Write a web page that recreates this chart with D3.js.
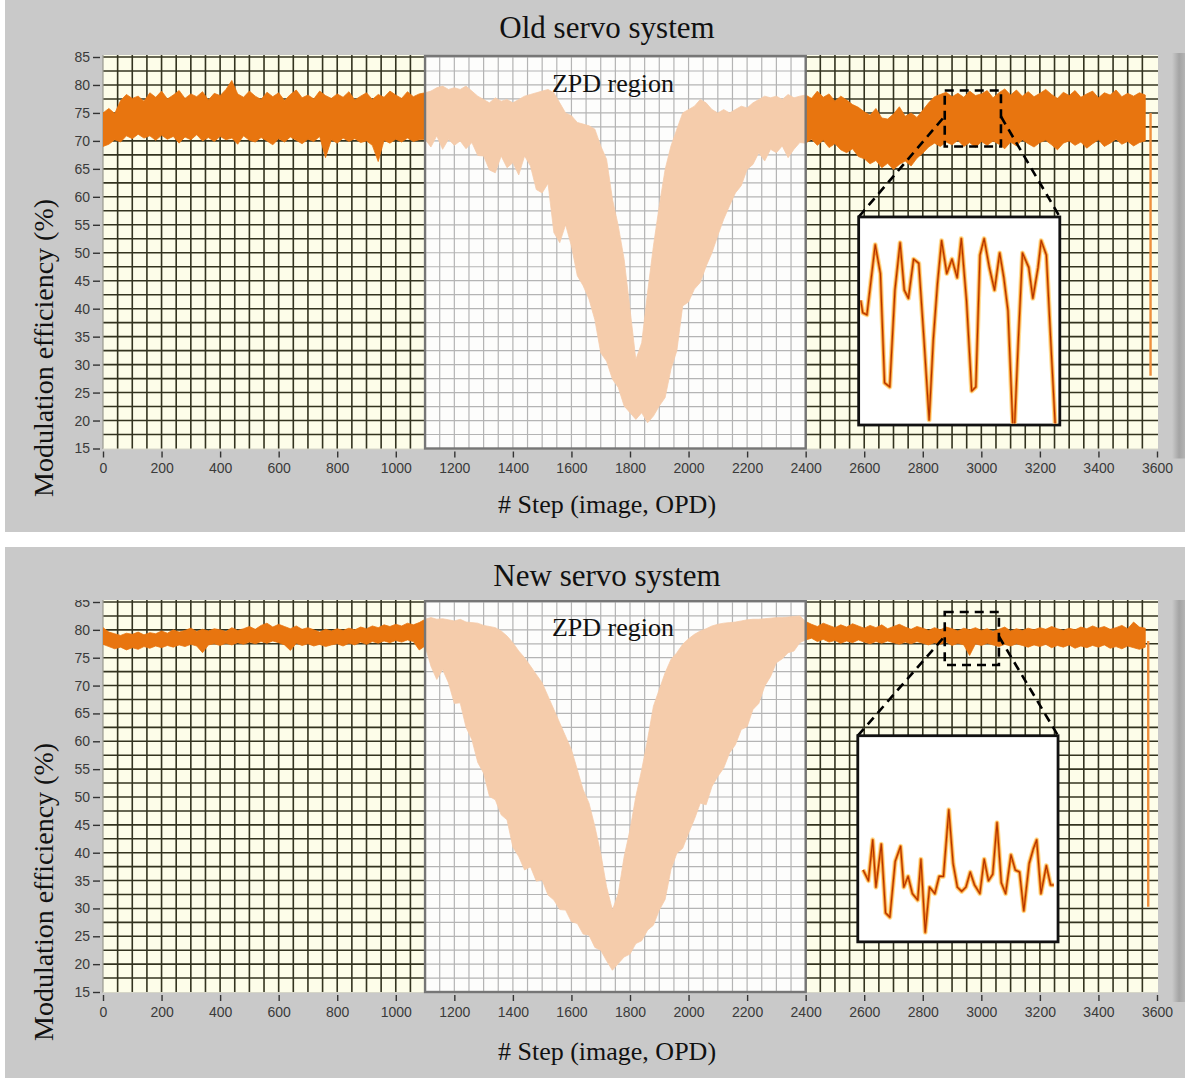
<!DOCTYPE html>
<html>
<head>
<meta charset="utf-8">
<script src="https://cdn.jsdelivr.net/npm/d3@7"></script>
<style>
  body { margin: 0; background: #ffffff; }
  svg { display: block; }
  .tick text { font-family: "Liberation Sans", Arial, sans-serif; font-size: 14px; fill: #3a3a3a; }
  .tick line { stroke: #333333; stroke-width: 1.4; }
</style>
</head>
<body>
<svg id="fig" width="1185" height="1078"></svg>
<script>
// ---- data ---------------------------------------------------------------
const stepTicks = d3.range(0, 3601, 200);          // x tick labels
const valueTicks = d3.range(15, 86, 5);            // y tick labels
const sampleSteps = d3.range(0, 3561, 20);         // envelope sample positions (# step)
const zpdSteps = [1100, 2400];                     // ZPD region

// Old servo: upper / lower envelope of the modulation efficiency trace (%)
const oldHi = [
  75.0, 75.8, 74.9, 77.2, 78.3, 77.6, 78.0, 77.1, 78.6, 77.8,
  78.9, 77.5, 78.2, 79.0, 77.6, 78.4, 77.9, 78.8, 77.3, 78.5,
  78.1, 79.2, 80.8, 78.4, 77.8, 78.9, 78.0, 77.4, 78.7, 77.9,
  78.6, 77.2, 78.3, 79.1, 77.7, 78.2, 77.5, 78.9, 78.1, 77.6,
  78.4, 77.8, 78.8, 77.3, 78.0, 78.6, 77.4, 78.3, 77.8, 78.9,
  78.2, 77.6, 78.8, 77.9, 78.4,
  78.6, 78.9, 79.5, 79.8, 79.2, 79.5, 79.2, 79.8, 78.9, 78.0,
  77.4, 76.8, 77.7, 77.1, 77.4, 76.8, 77.4, 78.0, 78.3, 78.6,
  78.9, 79.2, 78.6, 76.8, 75.0, 74.5, 73.3, 73.0, 72.7, 72.1,
  69.1, 66.7, 59.6, 54.8, 48.8, 39.9, 30.9, 33.9, 42.9, 51.2,
  58.4, 64.9, 69.1, 72.1, 75.0, 75.6, 76.2, 77.4, 76.8, 75.6,
  75.0, 75.6, 75.0, 75.6, 76.2, 75.9, 76.8, 77.4, 78.0, 77.7,
  78.0, 77.4, 78.3, 77.7, 78.0,
  78.2, 77.6, 78.9, 77.8, 78.4, 77.1, 78.0, 77.3, 76.5, 76.0,
  75.2, 74.6, 75.8, 74.1, 73.9, 74.8, 76.1, 74.4, 75.0, 74.2,
  75.5, 76.8, 77.9, 78.3, 78.7, 77.9, 78.5, 77.8, 78.9, 78.1,
  78.4, 79.0, 77.7, 78.6, 79.3, 78.2, 79.1, 78.0, 78.8, 77.9,
  78.5, 79.2, 78.3, 77.6, 78.7, 78.1, 79.0, 77.8, 78.4, 78.9,
  77.7, 78.6, 78.2, 79.1, 77.9, 78.5, 78.0, 78.6, 78.2
];
const oldLo = [
  69.0, 69.4, 70.2, 69.8, 70.9, 70.4, 71.2, 70.5, 70.9, 70.1,
  71.0, 70.3, 70.8, 69.6, 70.7, 70.2, 71.1, 70.0, 70.6, 69.9,
  70.8, 70.2, 70.5, 69.4, 70.9, 70.1, 69.8, 70.6, 70.0, 69.3,
  70.4, 69.8, 70.7, 70.1, 69.5, 70.3, 69.9, 70.8, 67.0, 70.2,
  69.6, 70.5, 69.9, 70.4, 69.7, 70.0, 69.2, 66.3, 70.1, 69.6,
  70.3, 69.8, 70.5, 69.9, 70.2,
  70.3, 68.9, 70.9, 68.5, 70.3, 69.2, 70.0, 68.6, 69.7, 67.4,
  67.3, 64.8, 64.3, 67.3, 65.2, 66.1, 63.9, 67.3, 65.5, 61.3,
  60.7, 62.4, 53.6, 51.8, 55.0, 51.2, 45.9, 44.1, 41.7, 38.0,
  32.1, 30.6, 27.4, 25.9, 22.6, 21.4, 20.2, 21.4, 19.6, 20.8,
  22.6, 24.1, 29.2, 32.5, 40.5, 41.2, 43.5, 44.7, 47.6, 50.0,
  53.1, 56.0, 58.4, 60.7, 62.0, 64.9, 65.8, 67.9, 66.4, 68.5,
  67.9, 69.1, 67.0, 68.5, 69.7,
  69.6, 70.3, 69.2, 70.1, 68.8, 69.5, 68.4, 67.9, 68.6, 67.2,
  66.8, 65.9, 66.5, 65.2, 66.0, 64.9, 65.8, 66.4, 65.5, 66.9,
  67.8, 68.9, 69.6, 69.0, 69.8, 69.3, 70.1, 69.0, 69.7, 68.8,
  69.9, 69.2, 70.0, 69.4, 68.6, 69.8, 69.1, 70.2, 69.5, 68.9,
  69.7, 70.1, 69.3, 68.4, 69.6, 70.0, 69.2, 69.8, 68.7, 69.5,
  70.2, 69.0, 69.6, 70.3, 69.4, 69.9, 69.1, 69.7, 70.0
];

// New servo: upper / lower envelope (%)
const newHi = [
  80.4, 79.6, 79.3, 79.0, 79.4, 79.2, 79.6, 79.1, 79.5, 79.3,
  79.8, 79.4, 80.0, 79.6, 79.9, 80.3, 79.7, 80.1, 79.8, 80.2,
  80.0, 79.7, 80.4, 79.9, 80.2, 80.6, 80.1, 80.8, 81.2, 80.5,
  81.0, 80.6, 80.2, 80.7, 80.1, 80.4, 80.0, 79.6, 80.1, 79.8,
  80.2, 79.9, 80.3, 80.0, 80.5, 80.2, 80.7, 80.4, 80.9, 80.6,
  81.0, 80.7, 81.2, 80.9, 81.3,
  81.9, 82.2, 81.9, 82.0, 81.8, 81.6, 81.9, 81.4, 81.3, 81.2,
  80.8, 80.6, 80.4, 79.8, 78.9, 77.7, 76.2, 75.0, 73.5, 72.0,
  70.5, 68.1, 65.7, 63.3, 60.9, 58.5, 54.9, 51.3, 48.9, 44.7,
  39.9, 33.9, 29.7, 32.7, 39.3, 44.1, 50.1, 54.9, 60.3, 66.3,
  69.3, 72.3, 74.7, 75.9, 77.4, 78.4, 79.2, 79.8, 80.2, 80.7,
  81.0, 81.2, 81.3, 81.4, 81.6, 81.8, 81.9, 81.9, 82.0, 82.1,
  82.2, 82.2, 82.3, 82.4, 82.5,
  81.5, 81.0, 80.6, 81.2, 80.8, 80.4, 80.9, 80.5, 81.1, 80.7,
  80.3, 80.8, 80.4, 80.9, 80.2, 80.6, 81.0, 80.5, 80.1, 80.6,
  80.3, 79.9, 80.4, 80.0, 80.5, 80.2, 79.8, 80.3, 80.0, 80.4,
  79.9, 80.2, 79.7, 80.1, 80.5, 79.8, 80.2, 79.9, 80.3, 80.0,
  80.4, 80.1, 80.6, 80.2, 79.9, 80.3, 80.0, 80.5, 80.2, 80.7,
  80.3, 80.6, 80.1, 80.4, 80.8, 80.2, 81.4, 80.5, 80.3
];
const newLo = [
  77.4, 77.0, 76.6, 76.9, 76.4, 76.8, 76.5, 77.0, 76.7, 77.1,
  76.8, 77.2, 76.9, 77.3, 77.0, 77.4, 77.1, 75.9, 77.3, 77.5,
  77.2, 77.6, 77.3, 77.7, 77.4, 77.8, 77.5, 77.9, 77.6, 78.0,
  77.7, 77.3, 76.3, 77.6, 77.2, 77.5, 77.1, 77.4, 77.0, 77.3,
  77.5, 77.1, 77.6, 77.3, 77.8, 77.4, 77.9, 77.6, 78.0, 77.7,
  78.1, 77.8, 78.2, 77.9, 76.4,
  77.1, 73.5, 71.1, 72.9, 70.5, 66.8, 66.9, 62.5, 60.3, 56.2,
  54.3, 50.1, 49.5, 46.8, 45.9, 41.0, 39.3, 36.9, 37.5, 34.9,
  35.1, 32.4, 31.5, 29.8, 29.7, 27.6, 27.3, 25.4, 25.2, 23.0,
  22.5, 20.6, 18.9, 20.1, 21.3, 21.8, 23.7, 24.2, 26.1, 27.0,
  29.7, 31.6, 37.0, 39.9, 40.8, 43.5, 46.0, 48.9, 48.6, 51.9,
  53.7, 55.2, 57.9, 59.4, 62.1, 62.6, 65.7, 66.8, 69.9, 71.6,
  74.1, 74.8, 75.9, 76.2, 77.7,
  78.2, 78.5, 77.9, 78.3, 77.8, 78.1, 77.6, 78.0, 77.7, 78.2,
  77.8, 77.5, 77.9, 77.6, 78.0, 77.7, 77.4, 77.8, 77.5, 77.9,
  77.6, 77.3, 77.7, 77.4, 77.8, 77.2, 77.6, 77.3, 75.4, 77.5,
  77.2, 77.6, 77.3, 77.0, 77.4, 77.1, 77.5, 77.2, 76.9, 77.3,
  77.0, 77.4, 76.8, 77.2, 76.9, 77.3, 76.7, 77.1, 76.8, 77.2,
  76.9, 77.3, 76.7, 77.0, 76.6, 77.1, 76.8, 76.5, 76.9
];

// End-of-scan drop (# step, start %, end %)
const oldTail = [3578, 75.0, 28.0];
const newTail = [3570, 78.0, 30.3];

// Magnified excerpts shown in the insets
const oldZoomWindow = { steps: [2875, 3067], values: [69, 79] };
const oldInsetSteps = [
  2876, 2878, 2882, 2886, 2890, 2895, 2899, 2904, 2909, 2914, 2918,
  2922, 2927, 2932, 2937, 2942, 2946, 2950, 2954, 2959, 2964, 2969,
  2973, 2978, 2983, 2987, 2991, 2995, 3000, 3005, 3010, 3014, 3018,
  3023, 3024, 3028, 3032, 3038, 3042, 3047, 3050, 3055, 3060, 3064
];
const oldInsetValues = [
  75.0, 74.4, 74.3, 76.0, 77.7, 76.3, 71.0, 70.8, 75.5, 77.8, 75.5,
  75.1, 77.0, 76.8, 73.1, 69.2, 73.1, 75.8, 77.9, 76.3, 77.0, 76.1,
  78.0, 75.0, 70.6, 70.8, 77.2, 78.0, 76.6, 75.5, 77.3, 76.1, 74.5,
  68.5, 68.5, 73.1, 77.3, 76.6, 75.1, 76.6, 77.9, 77.2, 72.3, 68.5
];
const newZoomWindow = { steps: [2875, 3060], values: [73.7, 83.2] };
const newInsetSteps = [
  2879, 2881, 2884, 2888, 2891, 2896, 2900, 2904, 2909, 2914, 2917,
  2921, 2925, 2930, 2933, 2937, 2941, 2946, 2950, 2954, 2959, 2963,
  2967, 2971, 2975, 2979, 2983, 2988, 2992, 2996, 3000, 3004, 3008,
  3012, 3017, 3021, 3025, 3029, 3034, 3038, 3041, 3045, 3050, 3054, 3057
];
const newInsetValues = [
  77.0, 76.8, 76.5, 78.4, 76.2, 78.2, 75.0, 74.8, 77.4, 78.1, 76.2,
  76.7, 75.9, 75.6, 77.5, 74.1, 76.2, 75.9, 76.7, 76.7, 79.8, 77.3,
  76.2, 76.0, 76.2, 76.9, 76.3, 75.9, 77.5, 76.5, 76.8, 79.2, 76.4,
  75.9, 77.7, 77.0, 76.9, 75.1, 77.3, 78.0, 78.4, 75.9, 77.2, 76.3, 76.3
];

// ---- drawing ------------------------------------------------------------
const W = 1185, H = 1078;
const svg = d3.select("#fig");
const defs = svg.append("defs");

// scroll-bar like shading at the right edge of each graph
const grad = defs.append("linearGradient").attr("id", "edgeShade")
  .attr("x1", "0%").attr("x2", "100%").attr("y1", "0%").attr("y2", "0%");
grad.append("stop").attr("offset", "0%").attr("stop-color", "#c9c9c9");
grad.append("stop").attr("offset", "55%").attr("stop-color", "#a4a4a4");
grad.append("stop").attr("offset", "100%").attr("stop-color", "#b4b4b4");

const COLORS = {
  panel: "#c9c9c9",
  plotBg: "#fdfde9",
  zpdBg: "#fdfdfc",
  gridDark: "#33331f",
  gridLight: "#b4b4b4",
  trace: "#e8750f",
  traceZpd: "#f5ccab",
  tail: "#ee8f3e"
};

const panels = [
  {
    id: "old", title: "Old servo system",
    top: 0, bottom: 532, y15: 448.5, y85: 57,
    titleY: 38, xTitleY: 513, yTitleY: 497, zpdLabelY: 92,
    hi: oldHi, lo: oldLo, tail: oldTail,
    win: oldZoomWindow, insetSteps: oldInsetSteps, insetValues: oldInsetValues,
    insetBox: { steps: [2581, 3268], values: [19.2, 56.4] },
    band: null
  },
  {
    id: "new", title: "New servo system",
    top: 547, bottom: 1078, y15: 992, y85: 602,
    titleY: 586, xTitleY: 1060, yTitleY: 1041, zpdLabelY: 636,
    hi: newHi, lo: newLo, tail: newTail,
    win: newZoomWindow, insetSteps: newInsetSteps, insetValues: newInsetValues,
    insetBox: { steps: [2578, 3262], values: [24.0, 61.0] },
    band: [547, 600]
  }
];

panels.forEach(drawPanel);

function drawPanel(p) {
  const g = svg.append("g").attr("class", "panel-" + p.id);
  const x = d3.scaleLinear().domain([0, 3600]).range([103, 1157]);
  const y = d3.scaleLinear().domain([15, 85]).range([p.y15, p.y85]);

  // panel background + right edge shading
  g.append("rect").attr("x", 5).attr("y", p.top)
    .attr("width", W - 5).attr("height", p.bottom - p.top).attr("fill", COLORS.panel);
  g.append("rect").attr("x", 1172).attr("y", y(85) - 4)
    .attr("width", 13).attr("height", y(15) - y(85) + 14).attr("fill", "url(#edgeShade)");

  // clip regions
  const pid = p.id;
  const px0 = x(0), px1 = x(3600), py0 = y(85) - 2, py1 = y(15) + 0.5;
  defs.append("clipPath").attr("id", "plot-" + pid)
    .append("rect").attr("x", px0).attr("y", py0).attr("width", px1 - px0 + 1).attr("height", py1 - py0);
  const outside = defs.append("clipPath").attr("id", "out-" + pid);
  outside.append("rect").attr("x", px0).attr("y", py0)
    .attr("width", x(zpdSteps[0]) - px0).attr("height", py1 - py0);
  outside.append("rect").attr("x", x(zpdSteps[1])).attr("y", py0)
    .attr("width", px1 + 1 - x(zpdSteps[1])).attr("height", py1 - py0);
  defs.append("clipPath").attr("id", "zpd-" + pid)
    .append("rect").attr("x", x(zpdSteps[0])).attr("y", py0)
    .attr("width", x(zpdSteps[1]) - x(zpdSteps[0])).attr("height", py1 - py0);

  // plot backgrounds
  g.append("rect").attr("x", px0).attr("y", py0).attr("width", px1 - px0 + 1)
    .attr("height", py1 - py0).attr("fill", COLORS.plotBg);
  g.append("rect").attr("x", x(zpdSteps[0])).attr("y", py0)
    .attr("width", x(zpdSteps[1]) - x(zpdSteps[0])).attr("height", py1 - py0)
    .attr("fill", COLORS.zpdBg);

  // grid: every 50 steps and every 2.5 %
  const vGrid = d3.range(50, 3600, 50);
  const hGrid = d3.range(17.5, 85.01, 2.5);
  [["out-", COLORS.gridDark, 1.6], ["zpd-", COLORS.gridLight, 1.2]].forEach(([cp, col, w]) => {
    const gg = g.append("g").attr("clip-path", `url(#${cp}${pid})`)
      .attr("stroke", col).attr("stroke-width", w);
    gg.selectAll("line.v").data(vGrid).join("line").attr("class", "v")
      .attr("x1", d => x(d)).attr("x2", d => x(d)).attr("y1", py0).attr("y2", py1);
    gg.selectAll("line.h").data(hGrid).join("line").attr("class", "h")
      .attr("x1", px0).attr("x2", px1 + 1).attr("y1", d => y(d)).attr("y2", d => y(d));
  });
  // plot edges
  g.append("line").attr("x1", px0).attr("x2", px0).attr("y1", py0).attr("y2", py1)
    .attr("stroke", "#9a9a90").attr("stroke-width", 1.2);
  g.append("line").attr("x1", px0).attr("x2", px1 + 1).attr("y1", py1).attr("y2", py1)
    .attr("stroke", "#d6d6c8").attr("stroke-width", 1);

  // efficiency trace envelope
  const area = d3.area()
    .x((d, i) => x(sampleSteps[i]))
    .y0((d, i) => y(p.lo[i]))
    .y1(d => y(d));
  [["out-", COLORS.trace], ["zpd-", COLORS.traceZpd]].forEach(([cp, col]) => {
    g.append("g").attr("clip-path", `url(#${cp}${pid})`)
      .append("path").datum(p.hi).attr("d", area)
      .attr("fill", col).attr("stroke", col).attr("stroke-width", 0.8)
      .attr("stroke-linejoin", "miter");
  });

  // end-of-scan drop
  g.append("line")
    .attr("x1", x(p.tail[0])).attr("x2", x(p.tail[0]))
    .attr("y1", y(p.tail[1])).attr("y2", y(p.tail[2]))
    .attr("stroke", COLORS.tail).attr("stroke-width", 2.4);

  // ZPD frame
  g.append("rect").attr("x", x(zpdSteps[0])).attr("y", y(85) - 1)
    .attr("width", x(zpdSteps[1]) - x(zpdSteps[0])).attr("height", y(15) - y(85) + 1)
    .attr("fill", "none").attr("stroke", "#767676").attr("stroke-width", 2.4);

  // zoom window, connectors and inset
  const wx0 = x(p.win.steps[0]), wx1 = x(p.win.steps[1]);
  const wyTop = y(p.win.values[1]), wyBot = y(p.win.values[0]);
  const wyMid = (wyTop + wyBot) / 2;
  const bx0 = x(p.insetBox.steps[0]), bx1 = x(p.insetBox.steps[1]);
  const byTop = y(p.insetBox.values[1]), byBot = y(p.insetBox.values[0]);
  const dash = g.append("g").attr("fill", "none").attr("stroke", "#000")
    .attr("stroke-width", 2.6).attr("stroke-dasharray", "9,6");
  dash.append("rect").attr("x", wx0).attr("y", wyTop)
    .attr("width", wx1 - wx0).attr("height", wyBot - wyTop);
  dash.append("line").attr("x1", wx0 - 2).attr("y1", wyMid).attr("x2", bx0).attr("y2", byTop);
  dash.append("line").attr("x1", wx1).attr("y1", wyMid - 2).attr("x2", bx1).attr("y2", byTop);

  g.append("rect").attr("x", bx0).attr("y", byTop)
    .attr("width", bx1 - bx0).attr("height", byBot - byTop)
    .attr("fill", "#ffffff").attr("stroke", "#111").attr("stroke-width", 2.8);
  defs.append("clipPath").attr("id", "inset-" + pid)
    .append("rect").attr("x", bx0 + 1.5).attr("y", byTop + 1.5)
    .attr("width", bx1 - bx0 - 3).attr("height", byBot - byTop - 3);
  const ix = d3.scaleLinear().domain(p.win.steps).range([bx0 + 1, bx1 - 1]);
  const iy = d3.scaleLinear().domain(p.win.values).range([byBot - 1, byTop + 1]);
  const insetLine = d3.line().x((d, i) => ix(p.insetSteps[i])).y(d => iy(d));
  const ig = g.append("g").attr("clip-path", `url(#inset-${pid})`);
  [["#ffdf9a", 5], ["#f3861e", 2.8], ["#b03200", 1.1]].forEach(([col, w]) => {
    ig.append("path").datum(p.insetValues).attr("d", insetLine)
      .attr("fill", "none").attr("stroke", col).attr("stroke-width", w)
      .attr("stroke-linejoin", "round");
  });

  // axes
  g.append("g").attr("transform", "translate(100,0)")
    .call(d3.axisLeft(y).tickValues(valueTicks).tickSize(7).tickPadding(3))
    .call(a => a.select(".domain").remove());
  g.append("g").attr("transform", `translate(0,${y(15) + 3})`)
    .call(d3.axisBottom(x).tickValues(stepTicks).tickSize(6).tickPadding(6).tickFormat(d3.format("d")))
    .call(a => a.select(".domain").remove());

  // labels
  const serif = "'Liberation Serif', 'Times New Roman', serif";
  g.append("text").attr("x", 613).attr("y", p.zpdLabelY).attr("text-anchor", "middle")
    .attr("font-family", serif).attr("font-size", 26).attr("fill", "#111").text("ZPD region");
  g.append("text").attr("x", 607).attr("y", p.xTitleY).attr("text-anchor", "middle")
    .attr("font-family", serif).attr("font-size", 26).attr("fill", "#111").text("# Step (image, OPD)");
  g.append("text").attr("transform", `translate(53,${p.yTitleY}) rotate(-90)`)
    .attr("text-anchor", "start")
    .attr("font-family", serif).attr("font-size", 28).attr("fill", "#111")
    .text("Modulation efficiency (%)");

  if (p.band) {
    g.append("rect").attr("x", 5).attr("y", p.band[0]).attr("width", W - 5)
      .attr("height", p.band[1] - p.band[0]).attr("fill", COLORS.panel);
  }
  g.append("text").attr("x", 607).attr("y", p.titleY).attr("text-anchor", "middle")
    .attr("font-family", serif).attr("font-size", 31).attr("fill", "#111").text(p.title);
}
</script>
</body>
</html>
